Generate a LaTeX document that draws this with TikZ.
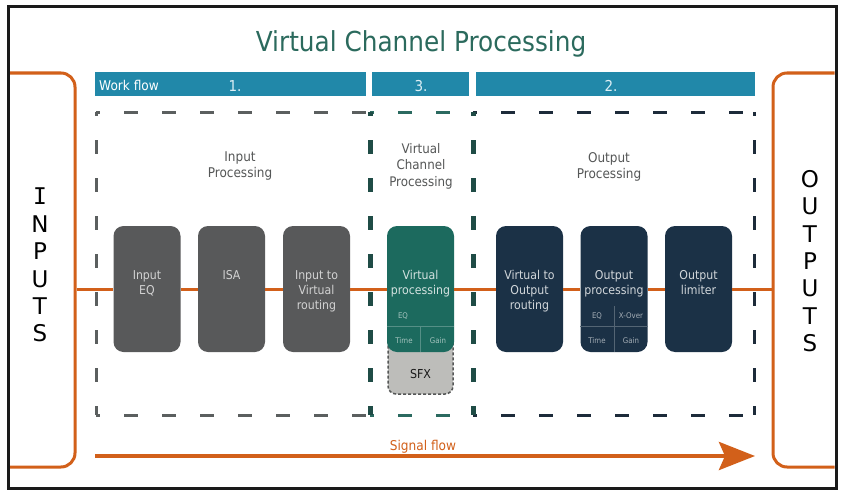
\documentclass[tikz,border=0pt]{standalone}
\usepackage{fontspec}
\setmainfont{DejaVu Sans}[FakeStretch=0.9]
\newfontfamily\lettersfont{DejaVu Sans}
\newfontfamily\monoletter{DejaVu Sans Mono}
\usetikzlibrary{arrows.meta}
\definecolor{frameC}{HTML}{1A1A1A}
\definecolor{orangeC}{HTML}{D2601A}
\definecolor{titleC}{HTML}{2B6A5D}
\definecolor{barC}{HTML}{2188A9}
\definecolor{barTxt}{HTML}{DDEFF5}
\definecolor{grayBox}{HTML}{58595A}
\definecolor{tealBox}{HTML}{1C6A5E}
\definecolor{navyBox}{HTML}{1B3146}
\definecolor{sfxC}{HTML}{BDBDBA}
\definecolor{dashGray}{HTML}{5B5F5F}
\definecolor{dashTeal}{HTML}{2B6A60}
\definecolor{dashNavy}{HTML}{1D2B3A}
\definecolor{dividerC}{HTML}{1F4C46}
\definecolor{labelC}{HTML}{555757}
\begin{document}
\begin{tikzpicture}[x=1pt,y=-1pt,
  pbox/.style={rounded corners=10pt, minimum width=67pt, minimum height=126pt, inner sep=0pt, draw=none},
  btxt/.style={anchor=north, inner sep=0pt, align=center, font=\fontsize{12.2}{15}\selectfont},
  sectxt/.style={anchor=north, inner sep=0pt, align=center, text=labelC, font=\fontsize{13.4}{16}\selectfont},
  small/.style={anchor=base, inner sep=0pt, font=\fontsize{7.8}{9}\selectfont},
  bar/.style={fill=barC, draw=none, inner sep=0pt, minimum height=24pt},
  bartxt/.style={anchor=base, inner sep=0pt, text=barTxt, font=\fontsize{15}{18}\selectfont},
  iobox/.style={draw=orangeC, line width=3pt, rounded corners=14pt, minimum width=95pt, minimum height=394pt, inner sep=0pt},
  iotxt/.style={anchor=north, inner sep=0pt, align=center, font=\lettersfont\fontsize{23}{27.4}\selectfont},
  sig/.style={draw=orangeC, line width=3pt},
  dsh/.style={line width=3pt, dash pattern=on 14pt off 24pt, dash phase=10pt},
  divider/.style={line width=5pt, draw=dividerC, dash pattern=on 14pt off 24pt, dash phase=10pt},
  gridl/.style={line width=0.6pt}
]
\path[use as bounding box, fill=white] (0,0) rectangle (843,495);

% title
\node[anchor=base, inner sep=0pt, text=titleC, font=\fontsize{27.5}{32}\selectfont] (title) at (421,52) {Virtual Channel Processing};

% work flow bars
\node[bar, minimum width=271pt] (bar1) at (230.5,84) {};
\node[bar, minimum width=97pt] (bar3) at (420.5,84) {};
\node[bar, minimum width=279pt] (bar2) at (615.5,84) {};
\node[anchor=base west, inner sep=0pt, text=white, font=\fontsize{13.5}{16}\selectfont] (wf) at (99,90) {Work flow};
\node[bartxt] (n1) at (235,91) {1.};
\node[bartxt] (n3) at (421,91) {3.};
\node[bartxt] (n2) at (611,91) {2.};

% dashed regions
\draw[dsh, draw=dashGray] (96,112) -- (370,112);
\draw[dsh, draw=dashGray] (96,112) -- (96,415);
\draw[dsh, draw=dashGray] (96,415) -- (370,415);
\draw[dsh, draw=dashTeal] (370,112) -- (473,112);
\draw[dsh, draw=dashTeal] (370,415) -- (473,415);
\draw[dsh, draw=dashNavy] (473,112) -- (754,112);
\draw[dsh, draw=dashNavy] (754,112) -- (754,415);
\draw[dsh, draw=dashNavy] (473,415) -- (754,415);
\draw[divider] (370,112) -- (370,415);
\draw[divider] (473,112) -- (473,415);

% section labels
\node[sectxt] (lin) at (240,152) {Input\\Processing};
\node[sectxt, font=\fontsize{13.2}{16.5}\selectfont] (lvc) at (421,143) {Virtual\\Channel\\Processing};
\node[sectxt] (lout) at (609,152) {Output\\Processing};

% inputs / outputs boxes
\begin{scope}
\clip (9.5,7.5) rectangle (834.5,487);
\node[iobox] (inputs) at (27.5,270) {};
\node[iobox] (outputs) at (820.5,270) {};
\end{scope}
\node[iotxt] (inT) at (40,188) {{\monoletter I}\\N\\P\\U\\T\\S};
\node[iotxt] (outT) at (810,170) {O\\U\\T\\P\\U\\T\\S};

% processing boxes
\node[pbox, fill=grayBox] (ieq) at (147,289) {};
\node[pbox, fill=grayBox] (isa) at (231.5,289) {};
\node[pbox, fill=grayBox] (i2v) at (316.5,289) {};
\node[pbox, fill=sfxC, draw=labelC, line width=1.5pt, dash pattern=on 3pt off 2pt, minimum width=65pt, minimum height=60pt, rounded corners=8pt] (sfx) at (420.5,364) {};
\node[pbox, fill=tealBox] (vp) at (420.5,289) {};
\node[pbox, fill=navyBox] (v2o) at (529.5,289) {};
\node[pbox, fill=navyBox] (op) at (614,289) {};
\node[pbox, fill=navyBox] (lim) at (698.5,289) {};

% signal line
\draw[sig] (inputs.east |- ieq.west) -- (ieq.west);
\draw[sig] (ieq.east) -- (isa.west);
\draw[sig] (isa.east) -- (i2v.west);
\draw[sig] (i2v.east) -- (vp.west);
\draw[sig] (vp.east) -- (v2o.west);
\draw[sig] (v2o.east) -- (op.west);
\draw[sig] (op.east) -- (lim.west);
\draw[sig] (lim.east) -- (lim.east -| outputs.west);

% box texts
\node[btxt, text=gray!35] (ieqT) at ([yshift=-44.5pt]ieq.north) {Input\\EQ};
\node[btxt, text=gray!35] (isaT) at ([yshift=-44.5pt]isa.north) {ISA};
\node[btxt, text=gray!35] (i2vT) at ([yshift=-44.5pt]i2v.north) {Input to\\Virtual\\routing};
\node[btxt, text=white!80!tealBox] (vpT) at ([yshift=-44.5pt]vp.north) {Virtual\\processing};
\node[btxt, text=white!80!navyBox] (v2oT) at ([yshift=-44.5pt]v2o.north) {Virtual to\\Output\\routing};
\node[btxt, text=white!80!navyBox] (opT) at ([yshift=-44.5pt]op.north) {Output\\processing};
\node[btxt, text=white!80!navyBox] (limT) at ([yshift=-44.5pt]lim.north) {Output\\limiter};

% grids
\draw[gridl, draw=white!25!tealBox] (vp.west |- 0,326) -- (vp.east |- 0,326);
\draw[gridl, draw=white!25!tealBox] (420.5,326) -- (vp.south);
\draw[gridl, draw=white!25!navyBox] (op.west |- 0,326) -- (op.east |- 0,326);
\draw[gridl, draw=white!25!navyBox] (614,306) -- (op.south);

\node[small, text=white!60!tealBox] (vpEQ) at (403,318) {EQ};
\node[small, text=white!60!tealBox] (vpTime) at (404,343) {Time};
\node[small, text=white!60!tealBox] (vpGain) at (438,343) {Gain};
\node[small, text=white!60!navyBox] (opEQ) at (597,318) {EQ};
\node[small, text=white!60!navyBox] (opX) at (631,318) {X-Over};
\node[small, text=white!60!navyBox] (opTime) at (597,343) {Time};
\node[small, text=white!60!navyBox] (opGain) at (631,343) {Gain};

\node[anchor=base, inner sep=0pt, text=frameC, font=\fontsize{12.3}{15}\selectfont] (sfxT) at (420.5,378) {SFX};

% signal flow arrow
\coordinate (sfStart) at (95,456);
\coordinate (sfEnd) at (755,456);
\draw[orangeC, line width=4pt, -{Stealth[length=36pt, width=28pt, inset=6pt]}] (sfStart) -- (sfEnd);
\node[anchor=base, inner sep=0pt, text=orangeC, font=\fontsize{13.5}{16}\selectfont] (sfT) at (423,450) {Signal flow};

% frame
\draw[frameC, line width=3pt] (8,6.5) rectangle (836.5,488.5);
\end{tikzpicture}
\end{document}
